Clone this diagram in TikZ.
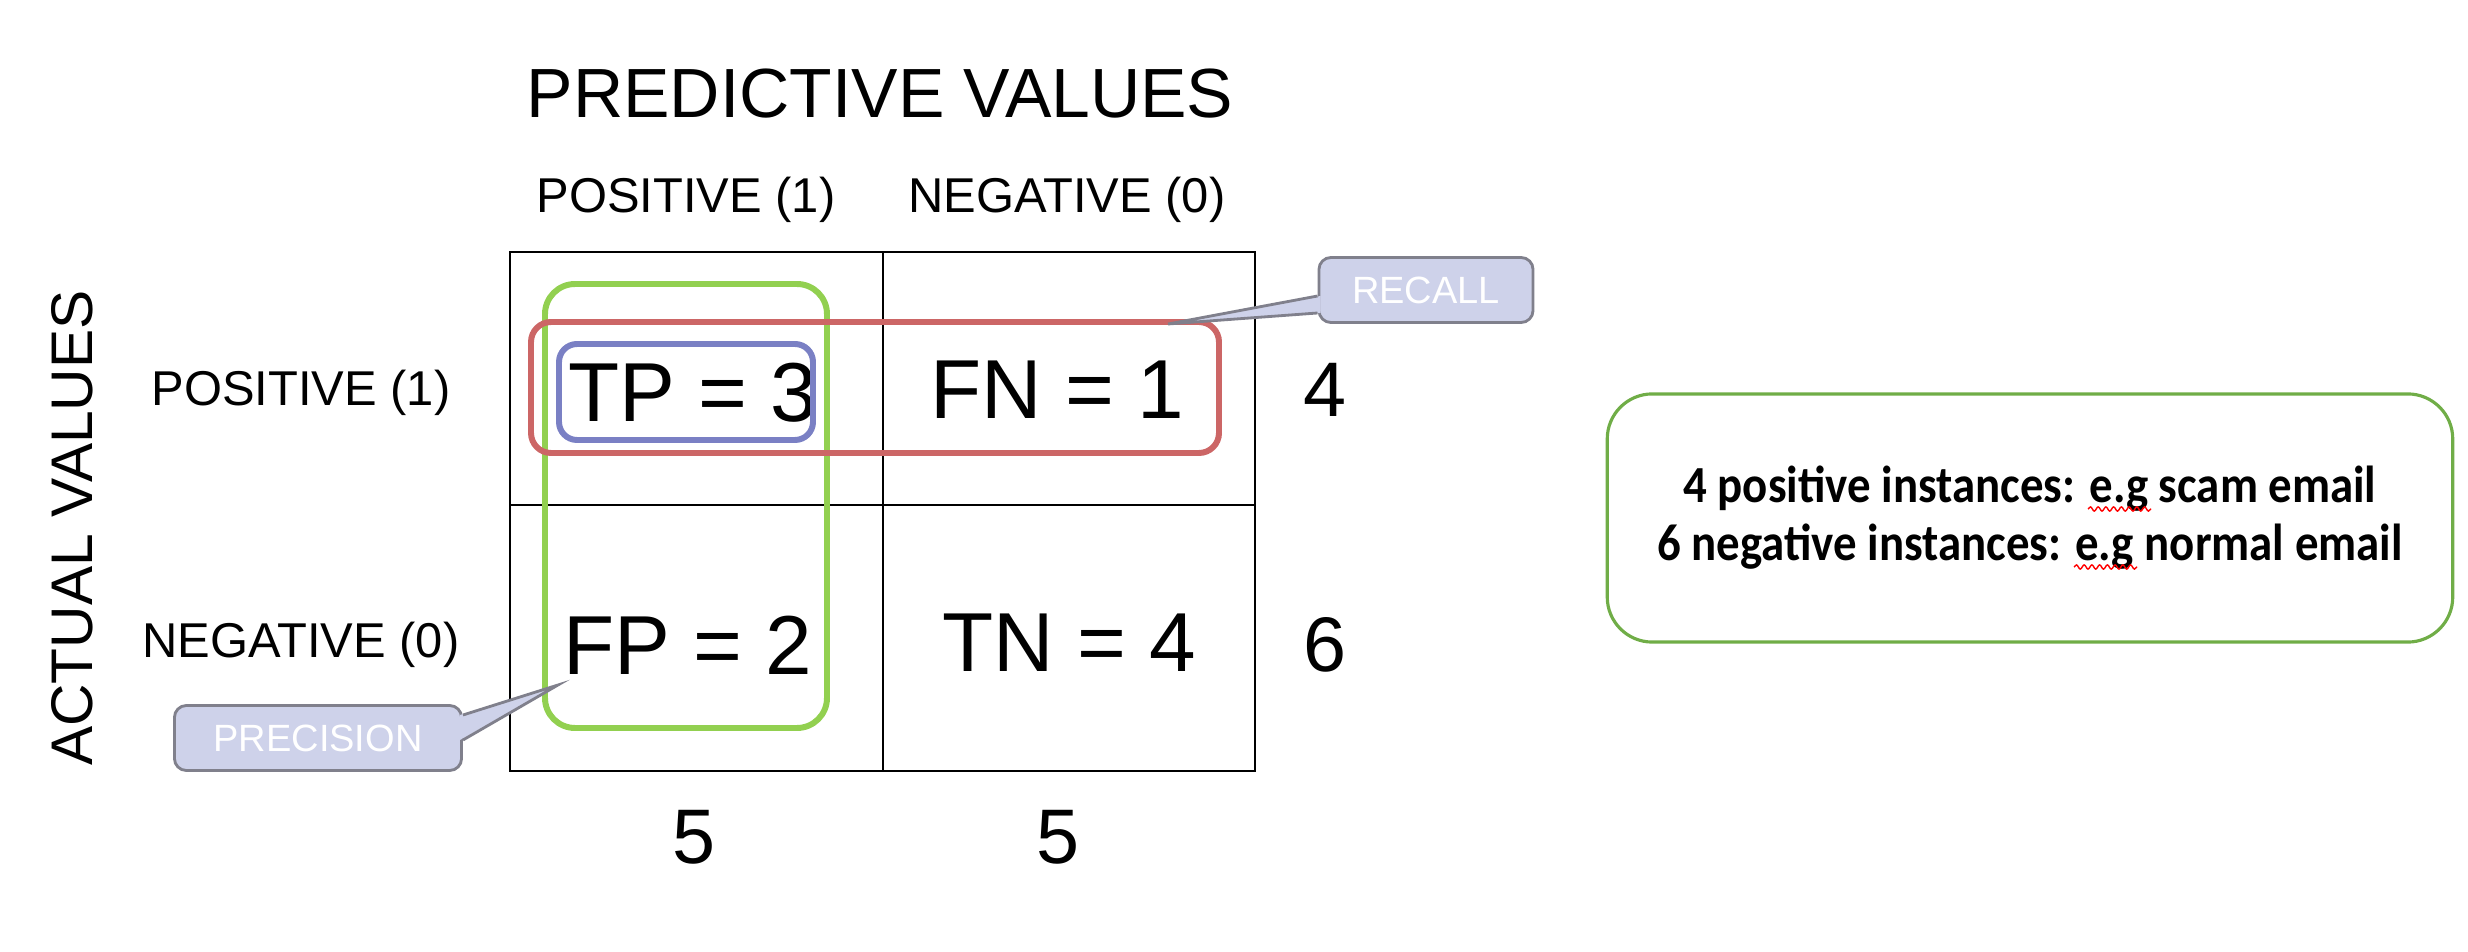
\documentclass[tikz,border=0pt]{standalone}
\usepackage{fontspec}
\setmainfont{Liberation Sans}
\newfontfamily\notefont[FakeStretch=0.9]{Carlito}
\usetikzlibrary{calc,decorations.pathmorphing}
\definecolor{precgreen}{RGB}{146,208,80}
\definecolor{recallred}{RGB}{204,102,102}
\definecolor{tpblue}{RGB}{122,128,196}
\definecolor{tagfill}{RGB}{206,210,234}
\definecolor{tagline}{RGB}{128,128,140}
\definecolor{noteline}{RGB}{112,173,71}

\begin{document}
\begin{tikzpicture}[x=0.01cm,y=-0.01cm,
  grid/.style={line width=0.7pt},
  hl/.style={line width=1.7pt},
  cell/.style={font=\fontsize{23.8}{26}\selectfont},
  total/.style={font=\fontsize{22}{26}\selectfont},
  head/.style={font=\fontsize{13.9}{16}\selectfont},
  tag/.style={draw=tagline,fill=tagfill,text=white,line width=0.8pt,
    rounded corners=0.12cm,minimum height=0.65cm,font=\fontsize{10.8}{12}\selectfont},
  pointer/.style={draw=tagline,line width=0.8pt,line join=miter},
  note/.style={draw=noteline,line width=0.9pt,rounded corners=0.45cm,align=center,
    minimum width=8.45cm,minimum height=2.48cm,font=\notefont\bfseries\fontsize{14.8}{16.5}\selectfont},
  spell/.style={draw=red,line width=0.4pt,decorate,decoration={snake,amplitude=0.6pt,segment length=2.2pt}}]
\useasboundingbox (0,0) rectangle (2468,952);

% titles
\node[font=\fontsize{19.8}{22}\selectfont] (pred) at (880,94) {PREDICTIVE VALUES};
\node[rotate=90,font=\fontsize{16.7}{20}\selectfont] (act) at (72,528) {ACTUAL VALUES};
\node[head] (cpos) at (686,200) {POSITIVE (1)};
\node[head] (cneg) at (1067,200) {NEGATIVE (0)};
\node[head] (rpos) at (301,393) {POSITIVE (1)};
\node[head] (rneg) at (301,645) {NEGATIVE (0)};

% matrix
\coordinate (tl) at (510,252);
\coordinate (br) at (1255,771);
\draw[grid] (tl) rectangle (br);
\draw[grid] (883,252) -- (883,771);
\draw[grid] (510,505) -- (1255,505);
\node[cell] (tp) at (693,393) {TP = 3};
\node[cell] (fn) at (1057,390) {FN = 1};
\node[cell] (fp) at (688,645) {FP = 2};
\node[cell] (tn) at (1069,643) {TN = 4};

% totals
\node[total] (rsum1) at (1325,390) {4};
\node[total] (rsum2) at (1325,645) {6};
\node[total] (csum1) at (694,837) {5};
\node[total] (csum2) at (1058,837) {5};

% highlights
\draw[hl,precgreen,rounded corners=0.3cm] (545,284) rectangle (827,728);
\draw[hl,recallred,rounded corners=0.2cm] (531,322) rectangle (1219,453);
\draw[hl,tpblue,rounded corners=0.18cm] (559,344) rectangle (813,440);

% callouts
\coordinate (rtip) at (1168,324);
\coordinate (ptip) at (558,685);
\node[tag,minimum width=2.14cm] (recall) at (1426,290) {RECALL};
\node[tag,minimum width=2.87cm] (prec) at (318,738) {PRECISION};
\fill[tagfill] ($(recall.west)+(3,6)$) -- (rtip) -- ($(recall.west)+(3,23)$) -- cycle;
\draw[pointer] ($(recall.west)+(0,6)$) -- (rtip) -- ($(recall.west)+(0,23)$);
\fill[tagfill] ($(prec.east)+(-3,-23)$) -- (ptip) -- ($(prec.east)+(-3,2)$) -- cycle;
\draw[pointer] ($(prec.east)+(0,-23)$) -- (ptip) -- ($(prec.east)+(0,2)$);

% note
\node[note] (box) at (2030,518) {4 positive instances: e.g scam email\\6 negative instances: e.g normal email};
\draw[spell] (2088,509) -- (2151,509);
\draw[spell] (2074,567) -- (2137,567);
\end{tikzpicture}
\end{document}
